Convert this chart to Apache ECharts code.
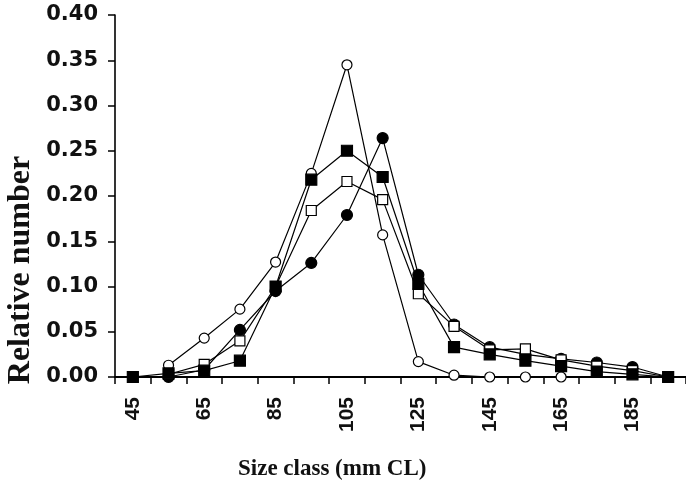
<!DOCTYPE html>
<html>
<head>
<meta charset="utf-8">
<script src="https://cdn.jsdelivr.net/npm/echarts@6/dist/echarts.min.js"></script>
<style>
  html, body { margin: 0; padding: 0; background: #fff; }
  #chart { width: 686px; height: 484px; }
</style>
</head>
<body>
<div id="chart"></div>
<script>
// size classes (mm CL) on the x axis
var sizeClasses = ['45', '55', '65', '75', '85', '95', '105', '115', '125', '135', '145', '155', '165', '175', '185', '195'];
var yTicks = [0, 0.05, 0.10, 0.15, 0.20, 0.25, 0.30, 0.35, 0.40];

// relative number per size class, one array per sample
var openCircles = [null, 0.013, 0.043, 0.075, 0.127, 0.225, 0.345, 0.157, 0.017, 0.002, 0, 0, 0, null, null, null];
var filledCircles = [null, 0, 0.008, 0.052, 0.095, 0.126, 0.179, 0.264, 0.113, 0.058, 0.033, 0.025, 0.020, 0.016, 0.011, 0];
var openSquares = [null, 0.003, 0.014, 0.040, 0.100, 0.184, 0.216, 0.196, 0.092, 0.056, 0.030, 0.031, 0.019, 0.012, 0.007, 0];
var filledSquares = [0, 0.004, 0.007, 0.018, 0.100, 0.218, 0.250, 0.221, 0.103, 0.033, 0.025, 0.018, 0.012, 0.006, 0.003, 0];

var chart = echarts.init(document.getElementById('chart'));

function makeSeries(name, data, symbol, size, filled) {
    return {
        name: name,
        type: 'line',
        data: data,
        symbol: symbol,
        symbolSize: size,
        showAllSymbol: true,
        connectNulls: false,
        lineStyle: { color: '#000', width: 1.2 },
        itemStyle: { color: filled ? '#000' : '#fff', borderColor: '#000', borderWidth: 1.2 },
        emphasis: { disabled: true },
        animation: false
    };
}

var option = {
    backgroundColor: '#fff',
    animation: false,
    grid: { left: 115, right: -4, top: 15, bottom: 107 },
    xAxis: {
        type: 'category',
        data: sizeClasses,
        boundaryGap: true,
        axisLine: { lineStyle: { color: '#000', width: 2.2 } },
        axisTick: { show: true, inside: false, length: 7, interval: 0, lineStyle: { color: '#000', width: 1.5 } },
        axisLabel: {
            interval: 1,
            rotate: 90,
            margin: 20,
            color: '#111',
            fontFamily: 'Liberation Sans',
            fontWeight: 'bold',
            fontSize: 21
        },
        splitLine: { show: false }
    },
    yAxis: {
        type: 'value',
        min: 0,
        max: 0.4,
        interval: 0.05,
        axisLine: { show: true, lineStyle: { color: '#000', width: 1.6 } },
        axisTick: { show: true, inside: false, length: 7, lineStyle: { color: '#000', width: 1.5 } },
        axisLabel: {
            margin: 17,
            color: '#111',
            fontFamily: 'DejaVu Sans',
            fontWeight: 'bold',
            fontSize: 21,
            formatter: function (v) { return v.toFixed(2); }
        },
        splitLine: { show: false }
    },
    graphic: [
        {
            type: 'text',
            left: 338 - 100,
            top: 458,
            style: {
                text: 'Size class (mm CL)',
                font: 'bold 23px "Liberation Serif"',
                fill: '#111',
                width: 200,
                align: 'center'
            }
        },
        {
            type: 'text',
            x: 21,
            y: 270,
            rotation: Math.PI / 2,
            style: {
                text: 'Relative number',
                font: 'bold 32px "Liberation Serif"',
                fill: '#111',
                align: 'center',
                verticalAlign: 'middle'
            }
        }
    ],
    series: [
        makeSeries('open circles', openCircles, 'circle', 10, false),
        makeSeries('filled circles', filledCircles, 'circle', 11, true),
        makeSeries('open squares', openSquares, 'rect', 10, false),
        makeSeries('filled squares', filledSquares, 'rect', 11, true)
    ]
};

chart.setOption(option);
</script>
</body>
</html>
